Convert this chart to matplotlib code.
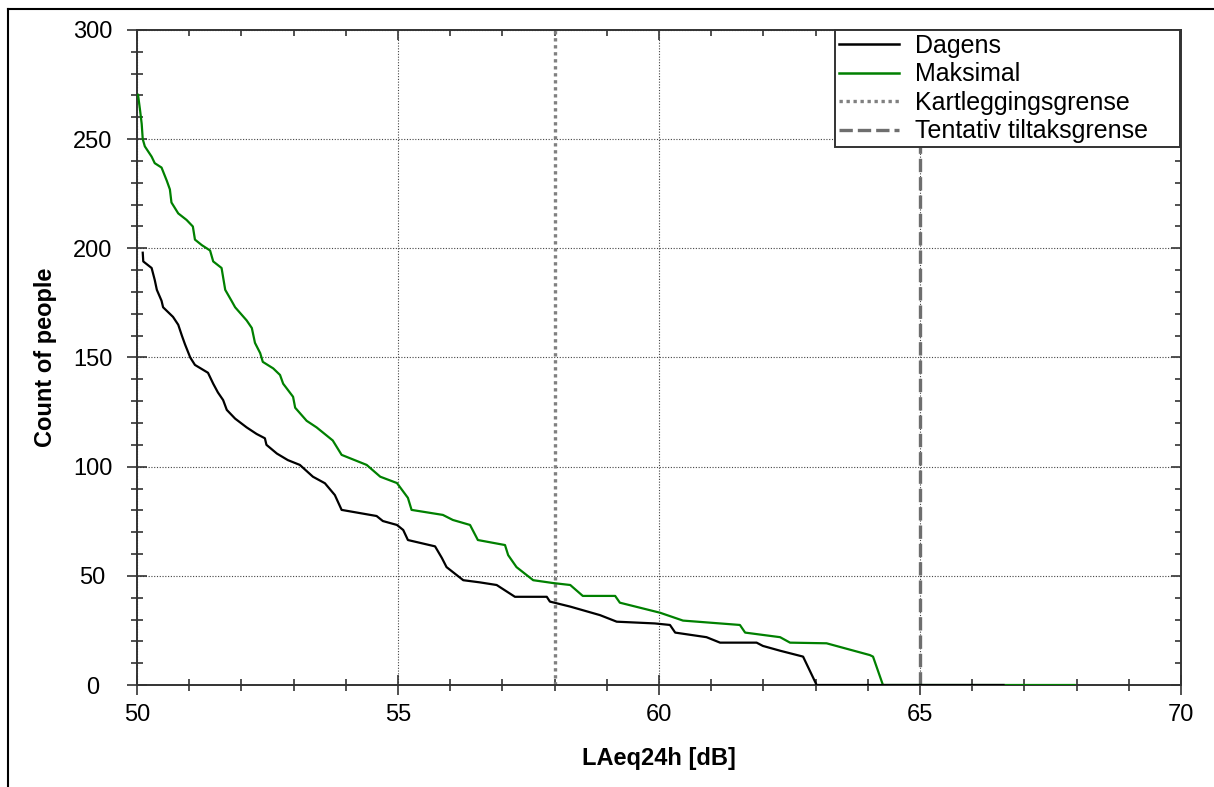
import matplotlib
matplotlib.use("Agg")
import matplotlib.pyplot as plt
from matplotlib.lines import Line2D
from matplotlib.ticker import MultipleLocator, NullFormatter

plt.rcParams['font.family'] = ['Liberation Sans', 'DejaVu Sans']

# Dagens (current situation)
dagens_x = [50.11, 50.12, 50.28, 50.34, 50.38, 50.47, 50.50, 50.69, 50.79, 50.86,
            50.92, 51.02, 51.11, 51.36, 51.46, 51.55, 51.65, 51.72, 51.88, 52.10,
            52.29, 52.45, 52.48, 52.68, 52.89, 53.12, 53.37, 53.60, 53.79, 53.92,
            54.59, 54.71, 54.98, 55.10, 55.19, 55.71, 55.84, 55.93, 56.25, 56.57,
            56.89, 57.24, 57.85, 57.91, 58.30, 58.87, 59.19, 59.92, 60.21, 60.31,
            60.91, 61.17, 61.87, 61.99, 62.32, 62.76, 63.02, 66.60]
dagens_y = [198, 194, 191, 185.5, 181, 176, 173, 168.6, 165, 160,
            156, 150, 146.6, 143, 138, 134, 130.5, 126, 122, 118,
            115, 113, 110, 106, 103, 100.8, 95.4, 92.4, 87, 80.2,
            77.4, 75.1, 73.3, 71, 66.4, 63.5, 58.2, 54, 48, 47,
            45.8, 40.4, 40.4, 38.2, 35.9, 32, 29, 28.2, 27.5, 24,
            21.9, 19.4, 19.4, 17.9, 15.7, 13, 0, 0]

# Maksimal
maks_x = [50.02, 50.06, 50.09, 50.11, 50.15, 50.28, 50.34, 50.47, 50.57, 50.63,
          50.66, 50.79, 50.95, 51.07, 51.11, 51.24, 51.40, 51.46, 51.62, 51.69,
          51.81, 51.88, 52.10, 52.20, 52.26, 52.36, 52.41, 52.61, 52.74, 52.80,
          52.99, 53.03, 53.25, 53.44, 53.75, 53.92, 54.40, 54.66, 54.98, 55.19,
          55.26, 55.86, 56.05, 56.38, 56.53, 57.05, 57.11, 57.27, 57.59, 57.97,
          58.30, 58.54, 59.16, 59.25, 60.02, 60.46, 61.55, 61.65, 62.32, 62.51,
          63.21, 64.04, 64.10, 64.29, 67.96]
maks_y = [270.3, 263, 257, 250, 246.7, 242, 239, 237, 231, 227,
          221, 216, 213, 210, 204, 201.5, 199, 194, 191, 181,
          176, 173, 167, 163.5, 156.7, 152, 148, 145, 142, 138,
          132, 127, 121, 118, 112, 105.4, 100.8, 95.4, 92.5, 85.7,
          80.2, 77.9, 75.6, 73.3, 66.4, 64.1, 59.5, 54, 48, 46.7,
          45.8, 40.8, 40.8, 37.7, 33.1, 29.5, 27.5, 24, 21.9, 19.4,
          19.1, 13.7, 13, 0, 0]

kartlegging = 58
tiltak = 65

fig = plt.figure(figsize=(12.14, 7.87), dpi=100)
ax = fig.add_axes([137 / 1214, 1 - 685 / 787, (1181 - 137) / 1214, (685 - 30) / 787])

ax.plot(maks_x, maks_y, color='#008000', lw=1.6, label='Maksimal', zorder=3)
ax.plot(dagens_x, dagens_y, color='black', lw=1.6, label='Dagens', zorder=4)
ax.axvline(kartlegging, color='#808080', lw=2.4, ls=(0, (1, 1.1)), zorder=2)
ax.axvline(tiltak, color='#6e6e6e', lw=2.4, ls=(0, (4, 1.5)), zorder=2)

ax.set_xlim(50, 70)
ax.set_ylim(0, 300)
ax.xaxis.set_major_locator(MultipleLocator(5))
ax.xaxis.set_minor_locator(MultipleLocator(1))
ax.yaxis.set_major_locator(MultipleLocator(50))
ax.yaxis.set_minor_locator(MultipleLocator(10))
ax.grid(True, which='major', color='#444444', lw=0.8, ls=(0, (1, 1.5)))

ax.tick_params(which='major', direction='inout', length=14, width=1.2, color='#333333',
               labelsize=17)
ax.tick_params(which='minor', direction='inout', length=8, width=1.2, color='#333333')
ax.tick_params(axis='y', which='major', pad=25)
ax.tick_params(axis='x', which='major', pad=7)
for lbl in ax.get_yticklabels():
    lbl.set_horizontalalignment('center')
for s in ax.spines.values():
    s.set_color('#333333')
    s.set_linewidth(1.4)

# inward ticks on top and right, no labels
top = ax.secondary_xaxis('top')
top.xaxis.set_major_locator(MultipleLocator(5))
top.xaxis.set_minor_locator(MultipleLocator(1))
top.xaxis.set_major_formatter(NullFormatter())
right = ax.secondary_yaxis('right')
right.yaxis.set_major_locator(MultipleLocator(50))
right.yaxis.set_minor_locator(MultipleLocator(10))
right.yaxis.set_major_formatter(NullFormatter())
for sec in (top, right):
    sec.tick_params(which='major', direction='in', length=7, width=1.2, color='#333333')
    sec.tick_params(which='minor', direction='in', length=4, width=1.2, color='#333333')
    sec.spines[:].set_visible(False)

ax.set_xlabel('LAeq24h [dB]', fontsize=17, fontweight='bold')
ax.set_ylabel('Count of people', fontsize=17, fontweight='bold')
ax.xaxis.set_label_coords(0.5, -0.095)
ax.yaxis.set_label_coords(-0.077, 0.5)

handles = [
    Line2D([], [], color='black', lw=1.8),
    Line2D([], [], color='#008000', lw=1.8),
    Line2D([], [], color='#808080', lw=2.4, ls=(0, (1, 1.1))),
    Line2D([], [], color='#6e6e6e', lw=2.4, ls=(0, (4, 1.5))),
]
labels = ['Dagens', 'Maksimal', 'Kartleggingsgrense', 'Tentativ tiltaksgrense']
# legend box spans roughly the right third of the top of the plot
leg_box = ((835 - 137) / 1044, (685 - 145) / 655, (1180 - 835) / 1044, (145 - 30) / 655)
leg = ax.legend(handles, labels, loc='upper left', bbox_to_anchor=leg_box, mode='expand',
                fontsize=18, frameon=True, fancybox=False, framealpha=1,
                edgecolor='#333333', borderaxespad=0, handlelength=2.4,
                labelspacing=0.18, borderpad=0.15, handletextpad=0.65)
leg.get_frame().set_linewidth(1.4)
leg.set_zorder(10)

# outer frame (left and top edge visible)
fig.add_artist(Line2D([8 / 1214, 8 / 1214], [0, 1 - 9 / 787], color='black', lw=1.5))
fig.add_artist(Line2D([8 / 1214, 1], [1 - 9 / 787, 1 - 9 / 787], color='black', lw=1.5))

fig.savefig('out.png', dpi=100)
